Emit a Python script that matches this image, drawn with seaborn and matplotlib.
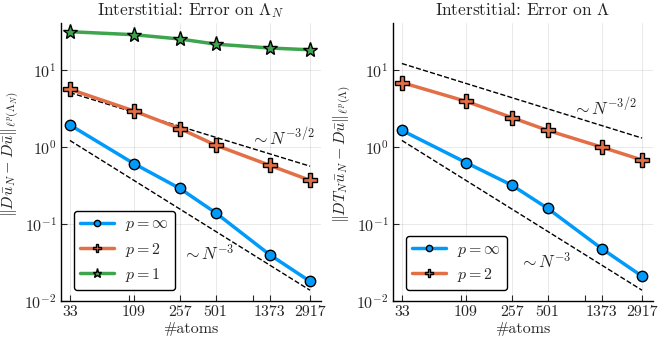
import numpy as np
import pandas as pd
import matplotlib
matplotlib.use("Agg")
import matplotlib.pyplot as plt
import matplotlib.ticker as mticker
import seaborn as sns

# data
atoms = [33, 109, 257, 501, 1373, 2917]
left_pinf = [1.94, 0.61, 0.29, 0.14, 0.040, 0.018]
left_p2 = [5.65, 2.95, 1.74, 1.06, 0.58, 0.37]
left_p1 = [31.6, 28.9, 25.4, 21.8, 19.4, 18.4]
right_pinf = [1.65, 0.63, 0.32, 0.16, 0.048, 0.021]
right_p2 = [6.9, 3.94, 2.42, 1.65, 1.0, 0.68]

# reference slopes (endpoints)
ref_x = [33, 2917]
left_ref32 = [5.1, 0.565]
left_ref3 = [1.22, 0.0138]
right_ref32 = [12.2, 1.31]
right_ref3 = [1.22, 0.0138]

sns.set_style("ticks")
plt.rcParams['font.family'] = 'serif'
plt.rcParams['font.serif'] = ['cmr10', 'DejaVu Serif']
plt.rcParams['mathtext.fontset'] = 'cm'
plt.rcParams['axes.formatter.use_mathtext'] = True

blue, orange, green = '#009AFA', '#E36F47', '#3EA44E'

fig = plt.figure(figsize=(6.64, 3.42), dpi=100)
W, H = 664, 342
ax1 = fig.add_axes([60.7 / W, 1 - 301 / H, (321 - 60.7) / W, (301 - 23) / H])
ax2 = fig.add_axes([392.7 / W, 1 - 301 / H, (653 - 392.7) / W, (301 - 23) / H])


def style_axes(ax, title, ylabel):
    ax.set_xscale('log')
    ax.set_yscale('log')
    ax.set_xlim(27.8, 3580)
    ax.set_ylim(1e-2, 41)
    ax.set_xticks(atoms)
    ax.set_xticklabels([str(a) for a in atoms])
    ax.xaxis.set_minor_locator(mticker.FixedLocator([100, 1000]))
    ax.xaxis.set_minor_formatter(mticker.NullFormatter())
    ax.yaxis.set_major_locator(mticker.LogLocator(base=10, numticks=10))
    ax.yaxis.set_minor_locator(mticker.NullLocator())
    ax.tick_params(which='both', direction='in', length=4, width=0.8, labelsize=11.5, pad=3)
    ax.grid(True, which='major', color='#000000', alpha=0.1, lw=0.6)
    for s in ['top', 'right']:
        ax.spines[s].set_visible(False)
    for s in ['left', 'bottom']:
        ax.spines[s].set_color('black')
        ax.spines[s].set_linewidth(1.0)
    ax.set_title(title, fontsize=12.5, pad=6)
    ax.set_xlabel('#atoms', fontsize=11.5, labelpad=2)
    ax.set_ylabel(ylabel, fontsize=11.5)
    ax.yaxis.set_label_coords(-0.148, 0.527)


def draw(ax, x, y, color, marker, ms, label):
    sns.lineplot(x=x, y=y, ax=ax, color=color, lw=2.5, marker=marker,
                 markersize=ms, markeredgecolor='black', markeredgewidth=1.0,
                 label=label, zorder=3)


# left panel
sns.lineplot(x=ref_x, y=left_ref32, ax=ax1, color='black', lw=1.0, linestyle='--', zorder=2)
sns.lineplot(x=ref_x, y=left_ref3, ax=ax1, color='black', lw=1.0, linestyle='--', zorder=2)
draw(ax1, atoms, left_pinf, blue, 'o', 7.5, r'$p = \infty$')
draw(ax1, atoms, left_p2, orange, 'P', 10, r'$p = 2$')
draw(ax1, atoms, left_p1, green, '*', 11, r'$p = 1$')
ax1.text(1746, 1.38, r'$\sim N^{-3/2}$', fontsize=12.5, ha='center', va='center')
ax1.text(433, 0.042, r'$\sim N^{-3}$', fontsize=12.5, ha='center', va='center')
style_axes(ax1, r'Interstitial: Error on $\Lambda_N$',
           r'$\Vert D\bar{u}_N - D\bar{u}\Vert_{\ell^p(\Lambda_N)}$')

# right panel
sns.lineplot(x=ref_x, y=right_ref32, ax=ax2, color='black', lw=1.0, linestyle='--', zorder=2)
sns.lineplot(x=ref_x, y=right_ref3, ax=ax2, color='black', lw=1.0, linestyle='--', zorder=2)
draw(ax2, atoms, right_pinf, blue, 'o', 7.5, r'$p = \infty$')
draw(ax2, atoms, right_p2, orange, 'P', 10, r'$p = 2$')
ax2.text(1436, 3.3, r'$\sim N^{-3/2}$', fontsize=12.5, ha='center', va='center')
ax2.text(479, 0.033, r'$\sim N^{-3}$', fontsize=12.5, ha='center', va='center')
style_axes(ax2, r'Interstitial: Error on $\Lambda$',
           r'$\Vert DT_N\bar{u}_N - D\bar{u}\Vert_{\ell^p(\Lambda)}$')

for ax in (ax1, ax2):
    leg = ax.legend(loc='lower left', fontsize=11.5, markerscale=0.6, frameon=True,
                    fancybox=True, edgecolor='black', framealpha=1.0,
                    handlelength=2.1, handletextpad=0.7, borderpad=0.4,
                    labelspacing=0.45, bbox_to_anchor=(0.02, 0.01))
    leg.get_frame().set_linewidth(1.0)

fig.savefig('out.png', dpi=100)
